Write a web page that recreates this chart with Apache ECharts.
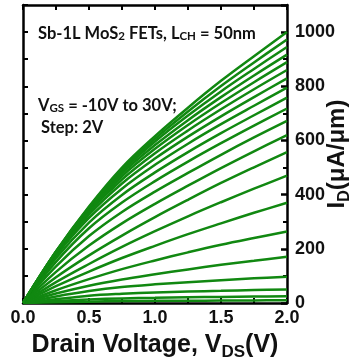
<!DOCTYPE html>
<html>
<head>
<meta charset="utf-8">
<script src="https://cdn.jsdelivr.net/npm/echarts@6/dist/echarts.min.js"></script>
<style>
  html, body { margin: 0; padding: 0; background: #fff; overflow: hidden; }
  #chart { width: 351px; height: 362px; }
</style>
</head>
<body>
<div id="chart"></div>
<script>
// Drain voltage sample points (V)
const vds = [0, 0.25, 0.5, 0.75, 1.0, 1.25, 1.5, 1.75, 2.0];

// Drain current I_D (uA/um) for each gate voltage, V_GS = -10 V ... 30 V, step 2 V
const idVgsM10 = [0, 3, 5, 7, 8, 8.5, 9, 9.5, 10];
const idVgsM8  = [0, 7, 13, 17, 19, 21, 22.5, 24, 25];
const idVgsM6  = [0, 14, 27, 34, 39, 42, 45, 48, 50];
const idVgsM4  = [0, 24, 44, 59, 69, 77, 84, 91, 97];
const idVgsM2  = [0, 35, 64, 87, 106, 124, 141, 156, 171];
const idVgs0   = [0, 47, 88, 125, 157, 187, 215, 240, 264];
const idVgs2   = [0, 62, 116, 166, 211, 254, 294, 333, 370];
const idVgs4   = [0, 77, 144, 207, 265, 320, 372, 422, 470];
const idVgs6   = [0, 95, 176, 249, 317, 381, 443, 501, 557];
const idVgs8   = [0, 115, 212, 294, 366, 433, 498, 560, 620];
const idVgs10  = [0, 135, 247, 336, 411, 480, 547, 611, 672];
const idVgs12  = [0, 152, 276, 371, 450, 522, 590, 655, 718];
const idVgs14  = [0, 165, 297, 399, 482, 557, 627, 693, 758];
const idVgs16  = [0, 174, 314, 422, 510, 588, 660, 728, 795];
const idVgs18  = [0, 180, 326, 441, 533, 614, 689, 760, 829];
const idVgs20  = [0, 184, 335, 456, 553, 637, 715, 789, 860];
const idVgs22  = [0, 186, 341, 468, 569, 657, 738, 815, 889];
const idVgs24  = [0, 188, 346, 478, 583, 675, 760, 840, 917];
const idVgs26  = [0, 189, 350, 486, 596, 692, 781, 864, 945];
const idVgs28  = [0, 190, 353, 493, 606, 707, 801, 888, 973];
const idVgs30  = [0, 190, 356, 500, 616, 721, 820, 911, 1000];

const curves = [idVgsM10, idVgsM8, idVgsM6, idVgsM4, idVgsM2, idVgs0, idVgs2, idVgs4,
  idVgs6, idVgs8, idVgs10, idVgs12, idVgs14, idVgs16, idVgs18, idVgs20, idVgs22,
  idVgs24, idVgs26, idVgs28, idVgs30];

// Axis tick values
const xTickLabels = [0.0, 0.5, 1.0, 1.5, 2.0];
const yTickLabels = [0, 200, 400, 600, 800, 1000];

const GREEN = '#118811';
const AXIS = { onZero: false, lineStyle: { color: '#000', width: 2.5 } };
const FONT = 'Liberation Sans, Arial, sans-serif';
const ANNOT_FONT = 'Lato, Open Sans, sans-serif';

const chart = echarts.init(document.getElementById('chart'), null, { renderer: 'canvas' });

const richSmall = {
  a: { fontFamily: ANNOT_FONT, fontWeight: 'bold', fontSize: 16.5, color: '#111', lineHeight: 20, verticalAlign: 'bottom' },
  s: { fontFamily: ANNOT_FONT, fontWeight: 'bold', fontSize: 11.5, color: '#111', lineHeight: 15, verticalAlign: 'bottom' }
};

const option = {
  animation: false,
  backgroundColor: '#fff',
  grid: { left: 23, right: 64, top: 5, bottom: 59, containLabel: false, outerBoundsMode: 'none' },
  title: [
    {
      left: 33, top: 17,
      text: '{a|Sb-1L MoS}{s|2}{a| FETs, L}{s|CH}{a| = 50nm}',
      textStyle: { rich: richSmall }
    },
    {
      left: 33, top: 89,
      text: '{a|V}{s|GS}{a| = -10V to 30V;}',
      textStyle: { rich: richSmall }
    },
    {
      left: 36, top: 114,
      text: 'Step: 2V',
      textStyle: { fontFamily: ANNOT_FONT, fontWeight: 'bold', fontSize: 16.5, color: '#111' }
    }
  ],
  xAxis: [
    {
      type: 'value', position: 'bottom', min: 0, max: 2, interval: 0.5,
      axisLine: AXIS,
      axisTick: { inside: true, length: 5, lineStyle: { width: 2, color: '#000' } },
      minorTick: { show: true, splitNumber: 2, length: 5, lineStyle: { width: 2, color: '#000' } },
      splitLine: { show: false },
      axisLabel: {
        margin: 6, fontFamily: FONT, fontWeight: 'bold', fontSize: 18, color: '#111',
        formatter: v => xTickLabels.some(t => Math.abs(t - v) < 1e-6) ? v.toFixed(1) : ''
      },
      name: '{a|Drain Voltage, V}{b|DS}{a|(V)}',
      nameLocation: 'middle', nameGap: 24,
      nameTextStyle: {
        rich: {
          a: { fontFamily: FONT, fontWeight: 'bold', fontSize: 25, color: '#111', lineHeight: 28, verticalAlign: 'top' },
          b: { fontFamily: FONT, fontWeight: 'bold', fontSize: 17, color: '#111', lineHeight: 20, padding: [12, 0, 0, 0], verticalAlign: 'bottom' }
        }
      }
    },
    {
      type: 'value', position: 'top', min: 0, max: 2, interval: 0.25,
      axisLine: AXIS,
      axisTick: { inside: true, length: 5, lineStyle: { width: 2, color: '#000' } },
      splitLine: { show: false },
      axisLabel: { show: false }
    }
  ],
  yAxis: [
    {
      type: 'value', position: 'right', min: 0, max: 1100, interval: 200,
      axisLine: AXIS,
      axisTick: { inside: true, length: 6, lineStyle: { width: 2.5, color: '#000' } },
      minorTick: { show: true, splitNumber: 2, length: 4, lineStyle: { width: 2, color: '#000' } },
      splitLine: { show: false },
      axisLabel: {
        margin: 8, fontFamily: FONT, fontWeight: 'bold', fontSize: 18, color: '#111',
        formatter: v => yTickLabels.indexOf(v) >= 0 ? String(v) : ''
      },
      name: '{a|I}{b|D}{a|(μA/μm)}',
      nameLocation: 'middle', nameGap: 38, nameMoveOverlap: false,
      nameTextStyle: {
        rich: {
          a: { fontFamily: FONT, fontWeight: 'bold', fontSize: 24, color: '#111', lineHeight: 28, verticalAlign: 'top' },
          b: { fontFamily: FONT, fontWeight: 'bold', fontSize: 16, color: '#111', lineHeight: 18, padding: [12, 0, 0, 0], verticalAlign: 'bottom' }
        }
      }
    },
    {
      type: 'value', position: 'left', min: 0, max: 1100, interval: 100,
      axisLine: AXIS,
      axisTick: { inside: true, length: 5, lineStyle: { width: 2, color: '#000' } },
      splitLine: { show: false },
      axisLabel: { show: false }
    }
  ],
  series: curves.map((ids, k) => ({
    type: 'line',
    name: 'VGS ' + (-10 + 2 * k) + ' V',
    xAxisIndex: 0, yAxisIndex: 0,
    data: vds.map((v, i) => [v, ids[i]]),
    showSymbol: false,
    smooth: 0.35,
    silent: true,
    lineStyle: { color: GREEN, width: 2.5 },
    z: 1
  }))
};

chart.setOption(option);
</script>
</body>
</html>
